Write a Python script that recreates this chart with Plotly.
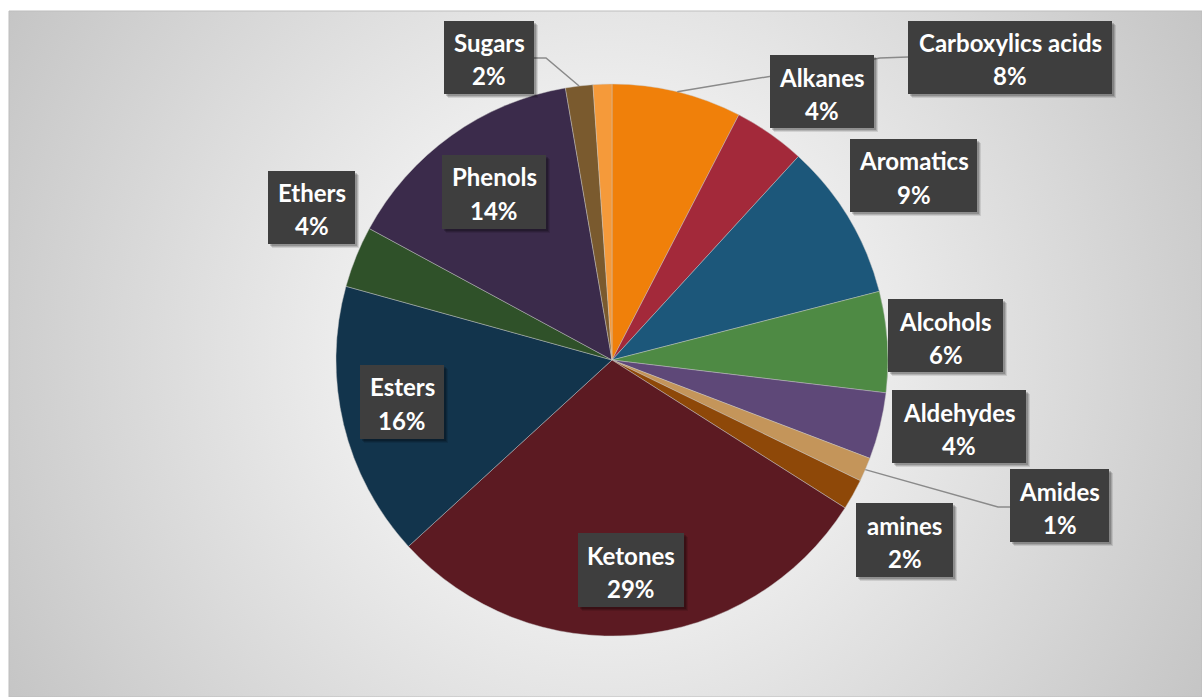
import base64
import math
import plotly.graph_objects as go

# ---------------- data ----------------
categories = ["Carboxylics acids", "Alkanes", "Aromatics", "Alcohols", "Aldehydes",
              "Amides", "amines", "Ketones", "Esters", "Ethers", "Phenols", "Sugars", "Others"]
values = [7.6, 4.2, 9.2, 5.9, 3.9, 1.4, 1.8, 29.2, 16.1, 3.6, 14.4, 1.6, 1.1]
colors = ["#F0800A", "#A3293A", "#1C577A", "#4E8A44", "#5E4878", "#C4955A", "#8E4808",
          "#5C1A22", "#12344C", "#2F5129", "#3B2B4B", "#7A5A2E", "#F59A3A"]

# ---------------- layout constants (pixels) ----------------
W, H = 1202, 697
CX, CY, R = 612, 360, 276

# label boxes: left, top, right, bottom
label_boxes = {
    "Carboxylics acids": (908, 21, 1112, 94),
    "Alkanes": (770, 55, 874, 128),
    "Aromatics": (850, 139, 977, 212),
    "Alcohols": (888, 299, 1003, 372),
    "Aldehydes": (892, 390, 1026, 463),
    "Amides": (1010, 469, 1109, 542),
    "amines": (856, 503, 953, 577),
    "Ketones": (578, 533, 684, 607),
    "Esters": (360, 365, 444, 439),
    "Ethers": (268, 171, 355, 244),
    "Phenols": (442, 155, 546, 229),
    "Sugars": (444, 21, 534, 94),
}
# leader line start points (box side and elbow)
leaders = {
    "Sugars": [(534, 58), (546, 58)],
    "Carboxylics acids": [(908, 57), (880, 58)],
    "Amides": [(1010, 507), (998, 507)],
}


def px(x):
    return x / W


def py(y):
    return 1 - y / H


total = sum(values)
pct = {c: f"{round(v / total * 100)}%" for c, v in zip(categories, values)}

# slice mid angles (clockwise from 12 o'clock)
mid_angle = {}
acc = 0.0
for c, v in zip(categories, values):
    mid_angle[c] = (acc + v / 2) / total * 2 * math.pi
    acc += v

fig = go.Figure()
fig.add_trace(go.Pie(
    labels=categories, values=values, sort=False, direction="clockwise", rotation=0,
    marker=dict(colors=colors, line=dict(color="rgba(200,200,200,0.55)", width=0.8)),
    textinfo="none", hoverinfo="label+percent", showlegend=False,
    domain=dict(x=[px(CX - R), px(CX + R)], y=[py(CY + R), py(CY - R)]),
))

# ---------------- background radial gradient ----------------
bx, by, bw, bh = 9, 11, W - 9, H - 11
gx, gy = 605 - bx, 354 - by
svg = (f'<svg xmlns="http://www.w3.org/2000/svg" width="{bw}" height="{bh}" viewBox="0 0 {bw} {bh}">'
       f'<defs><radialGradient id="g" gradientUnits="userSpaceOnUse" cx="{gx}" cy="{gy}" r="700">'
       f'<stop offset="0" stop-color="#ffffff"/><stop offset="0.15" stop-color="#fbfbfb"/>'
       f'<stop offset="1" stop-color="#c4c4c4"/></radialGradient></defs>'
       f'<rect width="{bw}" height="{bh}" fill="url(#g)"/></svg>')
src = "data:image/svg+xml;base64," + base64.b64encode(svg.encode()).decode()

shapes = []
shapes.append(dict(type="rect", xref="paper", yref="paper", x0=px(bx), x1=px(W), y0=py(H), y1=py(by),
                   line=dict(color="#bdbdbd", width=1), fillcolor="rgba(0,0,0,0)", layer="below"))

# leader lines
for c, pts in leaders.items():
    a = mid_angle[c]
    end = (CX + R * math.sin(a), CY - R * math.cos(a))
    allpts = pts + [end]
    path = "M " + " L ".join(f"{px(x)},{py(y)}" for x, y in allpts)
    shapes.append(dict(type="path", xref="paper", yref="paper", path=path,
                       line=dict(color="#8a8a8a", width=1.5)))

annotations = []
for c, (l, t, r, b) in label_boxes.items():
    for off, alpha in ((4, 0.10), (3, 0.14), (2, 0.18)):
        shapes.append(dict(type="rect", xref="paper", yref="paper",
                           x0=px(l + off), x1=px(r + off), y0=py(b + off), y1=py(t + off),
                           line=dict(width=0), fillcolor=f"rgba(0,0,0,{alpha})"))
    shapes.append(dict(type="rect", xref="paper", yref="paper",
                       x0=px(l), x1=px(r), y0=py(b), y1=py(t),
                       line=dict(width=0), fillcolor="#3e3e3e"))
    xc = (l + r) / 2
    annotations.append(dict(x=px(xc), y=py(t + 22), xref="paper", yref="paper", text=c,
                            showarrow=False, xanchor="center", yanchor="middle",
                            font=dict(family="Lato", size=24, color="white", weight="bold")))
    annotations.append(dict(x=px(xc), y=py(t + 55), xref="paper", yref="paper", text=pct[c],
                            showarrow=False, xanchor="center", yanchor="middle",
                            font=dict(family="Lato", size=24, color="white", weight="bold")))

fig.update_layout(
    width=W, height=H, margin=dict(l=0, r=0, t=0, b=0),
    paper_bgcolor="white", plot_bgcolor="white", showlegend=False,
    images=[dict(source=src, xref="paper", yref="paper", x=px(bx), y=py(by),
                 sizex=bw / W, sizey=bh / H, xanchor="left", yanchor="top",
                 sizing="stretch", layer="below")],
    shapes=shapes, annotations=annotations,
)

fig.write_html("out.html", config={"displayModeBar": False},
               post_script="document.body.style.margin='0';document.body.style.overflow='hidden';")
